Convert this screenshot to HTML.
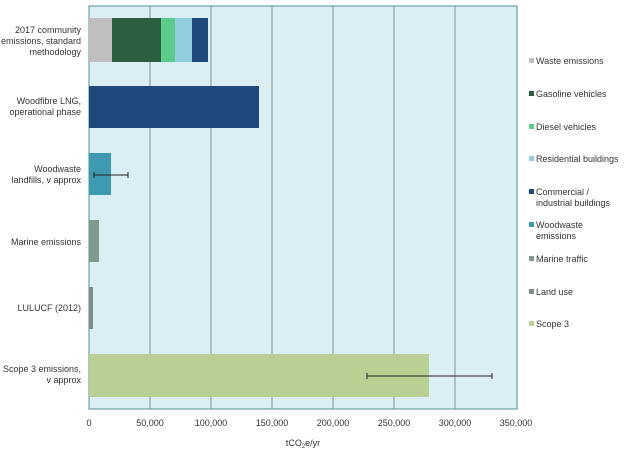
<!DOCTYPE html>
<html><head><style>
body{margin:0;background:#fff;}
svg text{font-family:"Liberation Sans",sans-serif;font-size:9px;fill:#333;}
</style></head><body>
<svg width="628" height="464" xmlns="http://www.w3.org/2000/svg">
<rect x="89" y="6" width="428" height="403" fill="#dbeef4" stroke="#4f8f96" stroke-width="1"/>
<g stroke="#7f8f96" stroke-width="1">
<line x1="150" y1="6" x2="150" y2="409"/><line x1="211" y1="6" x2="211" y2="409"/>
<line x1="272" y1="6" x2="272" y2="409"/><line x1="333" y1="6" x2="333" y2="409"/>
<line x1="394" y1="6" x2="394" y2="409"/><line x1="455" y1="6" x2="455" y2="409"/>
</g>
<rect x="89" y="18" width="23" height="44" fill="#bfbfbf"/>
<rect x="112" y="18" width="49" height="44" fill="#2b6140"/>
<rect x="161" y="18" width="14" height="44" fill="#5ccb8a"/>
<rect x="175" y="18" width="17" height="44" fill="#92cddd"/>
<rect x="192" y="18" width="16" height="44" fill="#1f497d"/>
<rect x="89" y="86" width="170" height="42" fill="#1f497d"/>
<rect x="89" y="153" width="22" height="42" fill="#3d9ab0"/>
<rect x="89" y="220" width="10" height="42" fill="#7f9a8c"/>
<rect x="89" y="287" width="4" height="42" fill="#7f8c8d"/>
<rect x="89" y="354" width="340" height="43" fill="#b9cf93"/>
<g stroke="#222" stroke-width="1">
<line x1="94" y1="175" x2="128" y2="175"/><line x1="94" y1="172" x2="94" y2="178"/><line x1="128" y1="172" x2="128" y2="178"/>
<line x1="367" y1="376" x2="492" y2="376"/><line x1="367" y1="373" x2="367" y2="379"/><line x1="492" y1="373" x2="492" y2="379"/>
</g>
<g text-anchor="end">
<text x="81" y="33">2017 community</text><text x="81" y="44">emissions, standard</text><text x="81" y="55">methodology</text>
<text x="81" y="104">Woodfibre LNG,</text><text x="81" y="115">operational phase</text>
<text x="81" y="172">Woodwaste</text><text x="81" y="183">landfills, v approx</text>
<text x="81" y="245">Marine emissions</text>
<text x="81" y="311">LULUCF (2012)</text>
<text x="81" y="372">Scope 3 emissions,</text><text x="81" y="383">v approx</text>
</g>
<g text-anchor="middle">
<text x="89" y="426">0</text><text x="150" y="426">50,000</text><text x="211" y="426">100,000</text>
<text x="272" y="426">150,000</text><text x="333" y="426">200,000</text><text x="394" y="426">250,000</text>
<text x="455" y="426">300,000</text><text x="516" y="426">350,000</text>
<text x="303" y="446">tCO<tspan font-size="6" dy="2">2</tspan><tspan dy="-2">e/yr</tspan></text>
</g>
<g>
<rect x="529" y="58" width="5" height="5" fill="#bfbfbf"/><text x="536" y="64">Waste emissions</text>
<rect x="529" y="91" width="5" height="5" fill="#2b6140"/><text x="536" y="97">Gasoline vehicles</text>
<rect x="529" y="124" width="5" height="5" fill="#5ccb8a"/><text x="536" y="130">Diesel vehicles</text>
<rect x="529" y="156" width="5" height="5" fill="#92cddd"/><text x="536" y="162">Residential buildings</text>
<rect x="529" y="189" width="5" height="5" fill="#1f497d"/><text x="536" y="195">Commercial /</text><text x="536" y="206">industrial buildings</text>
<rect x="529" y="222" width="5" height="5" fill="#3d9ab0"/><text x="536" y="228">Woodwaste</text><text x="536" y="239">emissions</text>
<rect x="529" y="256" width="5" height="5" fill="#7f9a8c"/><text x="536" y="262">Marine traffic</text>
<rect x="529" y="289" width="5" height="5" fill="#7f8c8d"/><text x="536" y="295">Land use</text>
<rect x="529" y="321" width="5" height="5" fill="#b9cf93"/><text x="536" y="327">Scope 3</text>
</g>
</svg>
</body></html>
